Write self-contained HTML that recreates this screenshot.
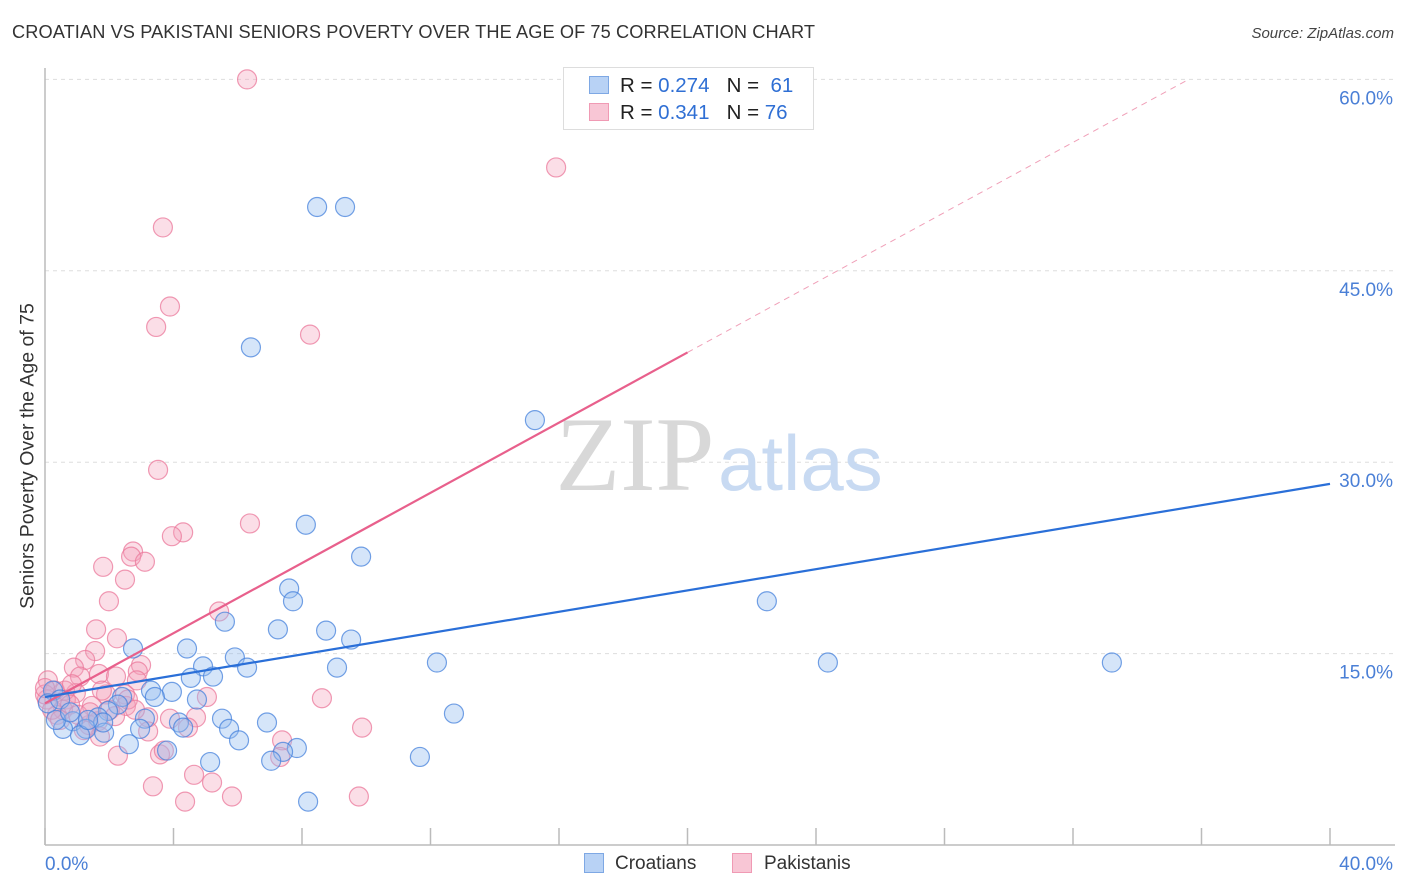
<!DOCTYPE html>
<html><head><meta charset="utf-8"><style>
body{margin:0;background:#fff;font-family:"Liberation Sans",sans-serif;}
#wrap{position:relative;width:1406px;height:892px;overflow:hidden;}
.t{position:absolute;white-space:nowrap;}
</style></head><body>
<div id="wrap">
<div class="t" style="left:12px;top:22px;font-size:18.2px;color:#333;letter-spacing:0.1px">CROATIAN VS PAKISTANI SENIORS POVERTY OVER THE AGE OF 75 CORRELATION CHART</div>
<div class="t" style="right:12px;top:25px;font-size:15px;color:#444;font-style:italic">Source: ZipAtlas.com</div>
<div class="t" style="left:28px;top:456px;font-size:19.5px;color:#333;transform:translate(-50%,-50%) rotate(-90deg)">Seniors Poverty Over the Age of 75</div>
<svg id="svg" width="1406" height="892" style="position:absolute;left:0;top:0"></svg>
<div style="position:absolute;left:563px;top:67px;width:251px;height:63px;border:1px solid #ddd;background:#fff;box-sizing:border-box"></div>
<div style="position:absolute;left:589px;top:76px;width:20px;height:18px;background:#b8d2f5;border:1px solid #7ea8e4;box-sizing:border-box"></div>
<div style="position:absolute;left:589px;top:103px;width:20px;height:18px;background:#f8c6d5;border:1px solid #f09ab4;box-sizing:border-box"></div>
<div class="t" style="left:620px;top:74px;font-size:20.5px;color:#222">R = <span style="color:#2f6fd4">0.274</span>&nbsp;&nbsp;&nbsp;N = &nbsp;<span style="color:#2f6fd4">61</span></div>
<div class="t" style="left:620px;top:101px;font-size:20.5px;color:#222">R = <span style="color:#2f6fd4">0.341</span>&nbsp;&nbsp;&nbsp;N = <span style="color:#2f6fd4">76</span></div>
<div style="position:absolute;left:584px;top:853px;width:20px;height:20px;background:#b8d2f5;border:1px solid #7ea8e4;box-sizing:border-box"></div>
<div class="t" style="left:615px;top:853px;font-size:19px;color:#333">Croatians</div>
<div style="position:absolute;left:732px;top:853px;width:20px;height:20px;background:#f8c6d5;border:1px solid #f09ab4;box-sizing:border-box"></div>
<div class="t" style="left:764px;top:853px;font-size:19px;color:#333">Pakistanis</div>
</div>
<script>
const blueX=[6.41,8.47,9.34,15.25,22.47,24.37,33.21,8.12,9.84,7.60,7.72,5.60,7.25,8.75,9.53,2.74,4.42,5.91,4.92,9.09,12.20,6.29,4.54,5.23,3.30,3.95,3.42,4.73,2.40,2.27,1.96,12.73,5.51,4.17,4.30,5.73,6.91,3.11,1.65,0.87,0.56,1.28,1.09,2.96,1.84,2.61,6.04,3.80,7.84,7.41,7.04,5.14,11.67,8.19,0.25,0.09,0.34,0.47,1.81,1.34,0.78];
const blueY=[39.0,50.0,50.0,33.3,19.1,14.3,14.3,25.1,22.6,20.1,19.1,17.5,16.9,16.8,16.1,15.4,15.4,14.7,14.0,13.9,14.3,13.9,13.1,13.2,12.1,12.0,11.6,11.4,11.6,11.0,10.5,10.3,9.9,9.6,9.2,9.1,9.6,9.9,10.0,9.7,9.1,9.1,8.6,9.1,8.8,7.9,8.2,7.4,7.6,7.3,6.6,6.5,6.9,3.4,12.1,11.1,9.8,11.4,9.6,9.8,10.4];
const pinkX=[6.29,15.91,3.67,3.89,3.46,8.25,3.52,4.30,3.95,6.38,2.74,2.68,3.11,1.81,2.49,1.99,5.42,1.59,2.24,1.56,1.25,2.99,0.90,2.89,1.68,2.86,2.21,1.09,0.09,0.31,0.96,1.90,2.49,5.04,8.62,0.65,1.46,2.52,0.56,3.21,4.70,3.89,1.65,1.37,4.45,9.87,1.71,3.21,0.37,0.06,0.62,2.02,1.21,7.38,2.27,3.58,3.70,7.32,4.64,5.20,3.36,5.82,4.36,9.77,0.78,0.22,0.47,1.03,1.40,0.0,0.0,0.84,2.58,1.77,2.18,2.80];
const pinkY=[60.0,53.1,48.4,42.2,40.6,40.0,29.4,24.5,24.2,25.2,23.0,22.6,22.2,21.8,20.8,19.1,18.3,16.9,16.2,15.2,14.5,14.1,13.9,13.6,13.4,12.9,13.2,13.2,12.9,12.1,11.9,11.8,11.8,11.6,11.5,11.4,10.9,10.9,10.6,10.0,10.0,9.9,9.7,9.4,9.2,9.2,8.5,8.9,10.2,11.4,12.1,10.6,9.0,8.2,7.0,7.1,7.4,6.9,5.5,4.9,4.6,3.8,3.4,3.8,11.0,10.6,9.8,10.2,10.4,11.8,12.3,12.6,11.4,12.1,10.1,10.6];
const yTicks=[15,30,45,60];
const yTickLabels=["15.0%","30.0%","45.0%","60.0%"];
const xTicks=[0,4,8,12,16,20,24,28,32,36,40];
const blueLine=[[0,11.6],[40,28.3]];
const pinkLine=[[0,11.1],[20,38.6]];
const pinkDash=[[20,38.6],[35.6,60.0]];

const NS="http://www.w3.org/2000/svg";
const svg=document.getElementById('svg');
const sx=v=>45+v*(1285/40);
const sy=v=>845-v*12.76;
function mk(tag,attrs){const e=document.createElementNS(NS,tag);for(const k in attrs)e.setAttribute(k,attrs[k]);svg.appendChild(e);return e;}
yTicks.forEach((t,i)=>{
 const g=mk('line',{x1:45,x2:1395,y1:sy(t),y2:sy(t),stroke:'#ddd','stroke-dasharray':'4,4','stroke-width':1});
 
 
 const tx=mk('text',{x:1393,y:sy(t)+25,'text-anchor':'end','font-size':19,fill:'#4a7fd6','font-family':'Liberation Sans, sans-serif'});
 tx.textContent=yTickLabels[i];
 
 
});
const ax=mk('line',{x1:45,x2:45,y1:68,y2:845,stroke:'#bbb','stroke-width':1.5});


const bx=mk('line',{x1:45,x2:1395,y1:845,y2:845,stroke:'#bbb','stroke-width':1.5});


xTicks.forEach(t=>{
 const l=mk('line',{x1:sx(t),x2:sx(t),y1:828,y2:845,stroke:'#bbb','stroke-width':1.5});
 
 
});
const xl0=mk('text',{x:45,y:870,'font-size':19,fill:'#4a7fd6','font-family':'Liberation Sans, sans-serif'});
xl0.textContent='0.0%';


const xl1=mk('text',{x:1393,y:870,'text-anchor':'end','font-size':19,fill:'#4a7fd6','font-family':'Liberation Sans, sans-serif'});
xl1.textContent='40.0%';


const w1=mk('text',{x:635,y:490,'text-anchor':'middle','font-size':106,fill:'#d8d8d8','font-family':'Liberation Serif, serif'});
w1.textContent='ZIP';


const w2=mk('text',{x:718,y:490,'font-size':78,fill:'#c8daf2','font-family':'Liberation Sans, sans-serif'});
w2.textContent='atlas';


pinkX.forEach((x,i)=>{
 const c=mk('circle',{cx:sx(x),cy:sy(pinkY[i]),r:9.5,fill:'rgba(244,160,185,0.35)',stroke:'rgba(235,120,155,0.75)','stroke-width':1.2});
 
 
});
blueX.forEach((x,i)=>{
 const c=mk('circle',{cx:sx(x),cy:sy(blueY[i]),r:9.5,fill:'rgba(150,190,240,0.4)',stroke:'rgba(70,130,220,0.75)','stroke-width':1.2});
 
 
});
const pd=mk('line',{x1:sx(pinkDash[0][0]),y1:sy(pinkDash[0][1]),x2:sx(pinkDash[1][0]),y2:sy(pinkDash[1][1]),stroke:'#f0a0b8','stroke-width':1,'stroke-dasharray':'6,5'});


const pl=mk('line',{x1:sx(pinkLine[0][0]),y1:sy(pinkLine[0][1]),x2:sx(pinkLine[1][0]),y2:sy(pinkLine[1][1]),stroke:'#e8608c','stroke-width':2.2});


const bl=mk('line',{x1:sx(blueLine[0][0]),y1:sy(blueLine[0][1]),x2:sx(blueLine[1][0]),y2:sy(blueLine[1][1]),stroke:'#2a6fd8','stroke-width':2.2});


</script>
</body></html>
